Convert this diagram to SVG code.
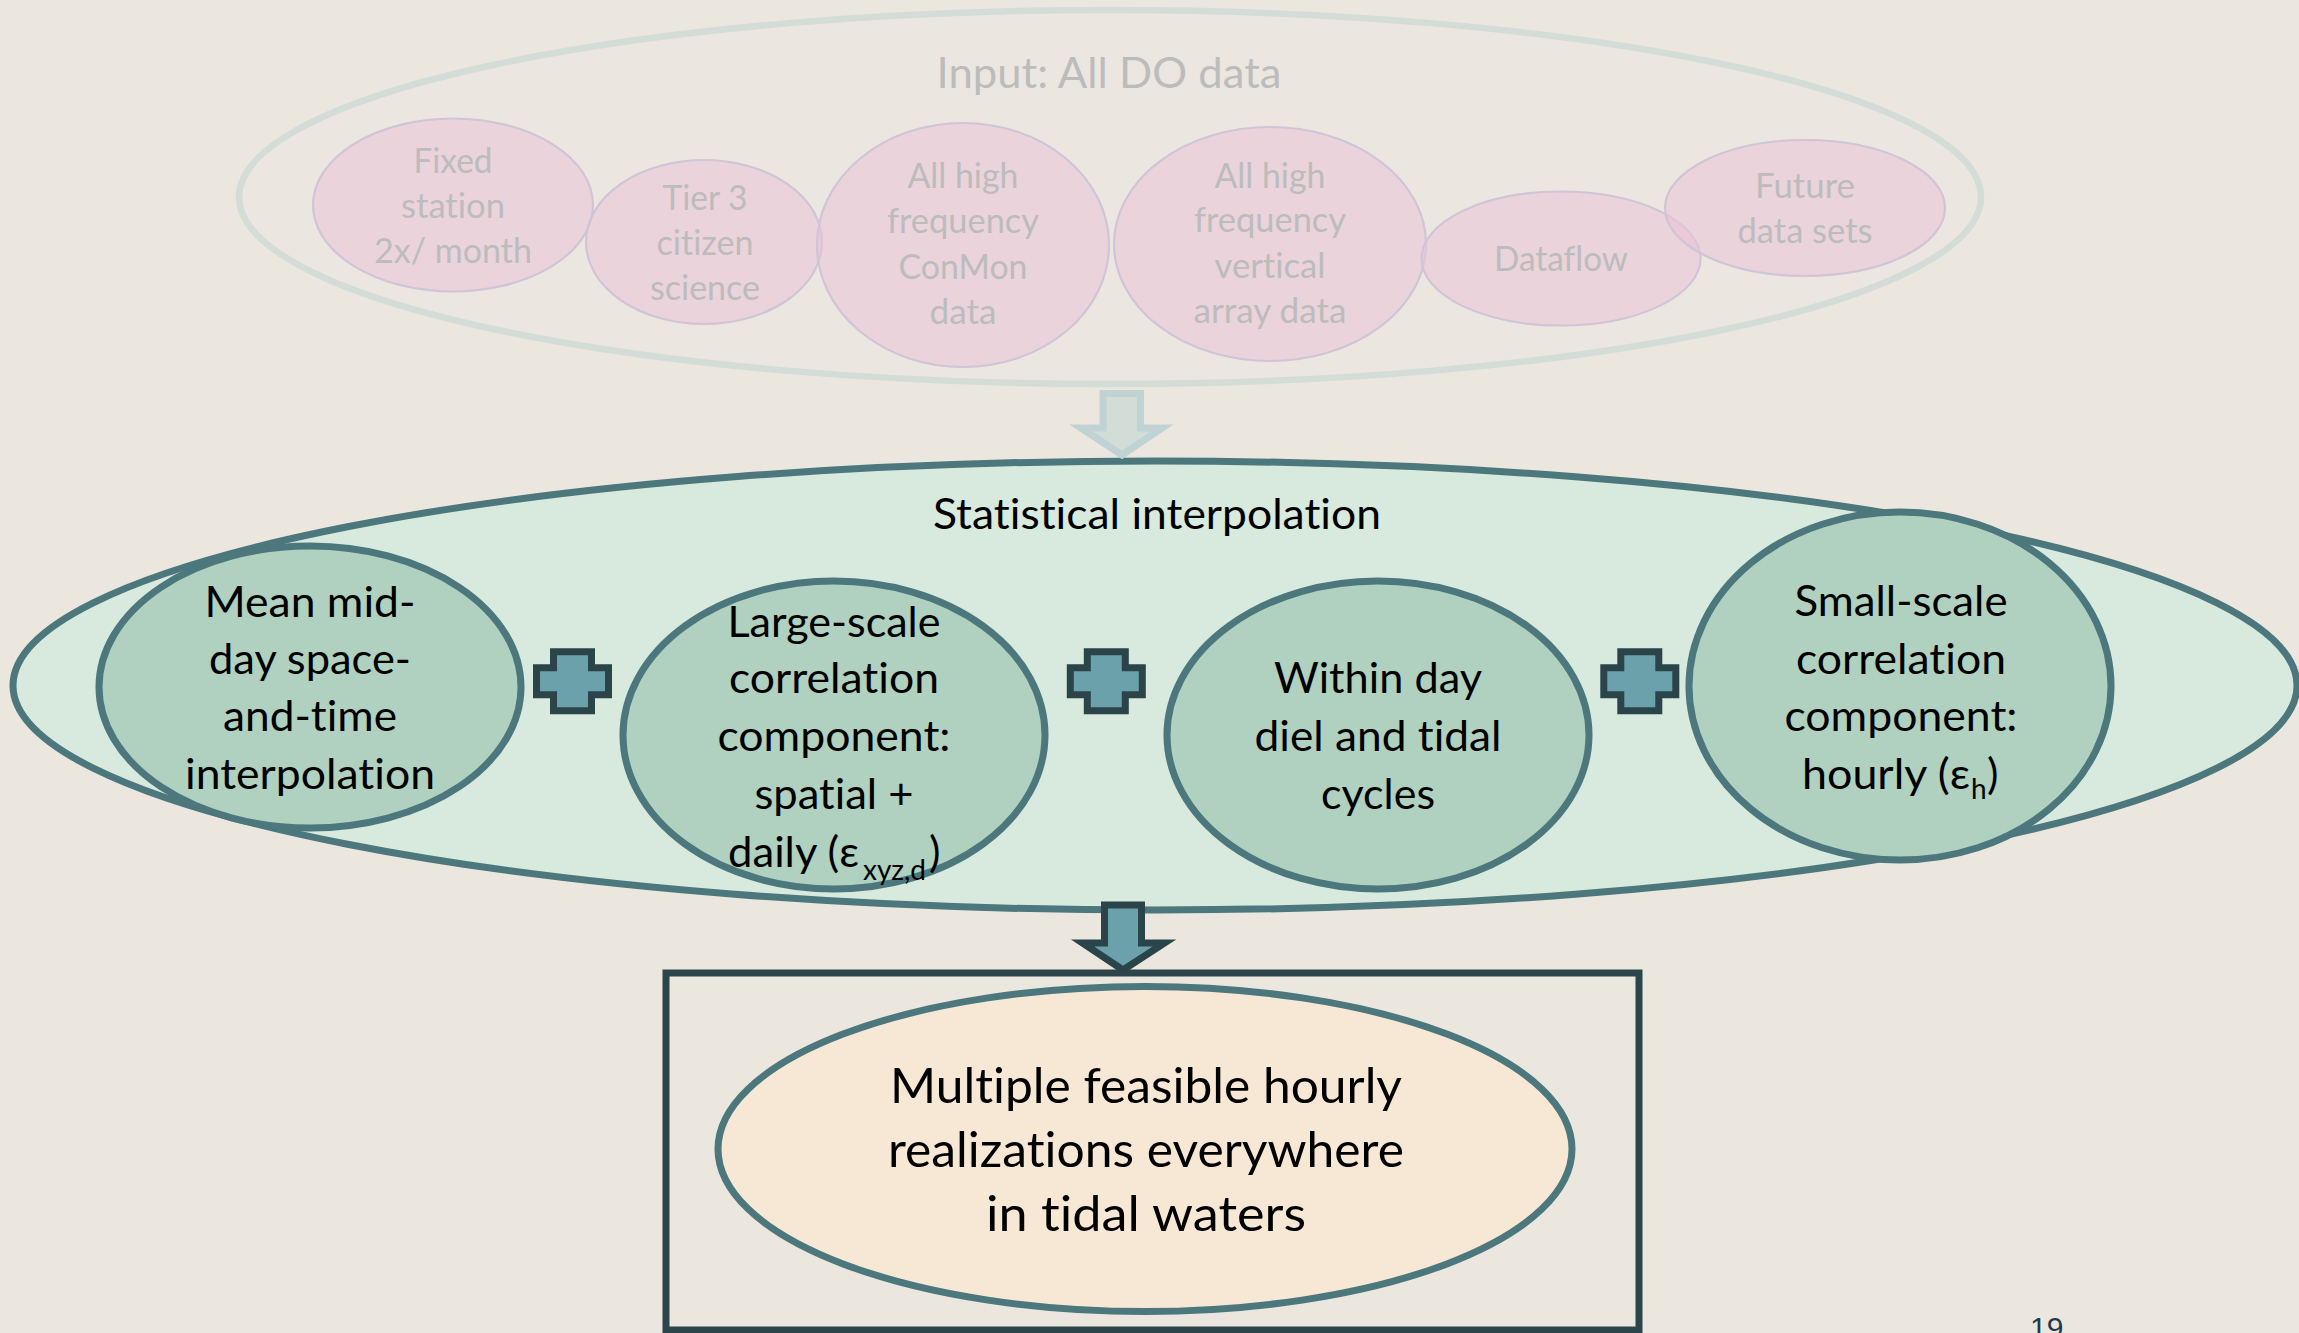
<svg xmlns="http://www.w3.org/2000/svg" xmlns:xlink="http://www.w3.org/1999/xlink" width="2299" height="1333" viewBox="0 0 2299 1333">
<style>
text{font-variant-ligatures:none;font-feature-settings:"liga" 0,"clig" 0}
.bg{fill:#ebe7de}
.pink{fill:#eac3d7;fill-opacity:0.55;stroke:#cfc5d6;stroke-width:2.2}
.ptxt{font-family:Lato,"Open Sans",sans-serif;font-size:34px;fill:#bcbcbc;text-anchor:middle}
.gnode{fill:#b0d1bf;stroke:#4b777d;stroke-width:7}
.mtxt{font-family:Lato,"Open Sans",sans-serif;font-size:43px;fill:#000;text-anchor:middle}
.mtxs{font-family:Lato,"Open Sans",sans-serif;font-size:43px;fill:#000}
.sub{font-family:Lato,"Open Sans",sans-serif;font-size:28px;fill:#000}
.btxt{font-family:Lato,"Open Sans",sans-serif;font-size:48px;fill:#000;text-anchor:middle}
.plus{fill:#6aa1aa;stroke:#2a444a;stroke-width:7}
</style>
<defs>
<path id="plusShape" d="M-19,-29.5 H19 V-13.5 H36 V13.5 H19 V29.5 H-19 V13.5 H-36 V-13.5 H-19 Z"/>
</defs>
<rect class="bg" x="0" y="0" width="2299" height="1333"/>

<g id="input-group">
<ellipse cx="1110" cy="197" rx="871" ry="187" fill="#ece6e0" stroke="#d3dcd7" stroke-width="6.5"/>
<text x="1109" y="88" font-family="Lato,'Open Sans',sans-serif" font-size="43" fill="#bcbcbc" text-anchor="middle" textLength="345" lengthAdjust="spacingAndGlyphs">Input: All DO data</text>
</g>

<g id="node-fixed">
<ellipse class="pink" cx="453" cy="205" rx="140" ry="86.5"/>
<text class="ptxt" x="453" y="173" textLength="79" lengthAdjust="spacingAndGlyphs">Fixed</text>
<text class="ptxt" x="453" y="218" textLength="104" lengthAdjust="spacingAndGlyphs">station</text>
<text class="ptxt" x="453" y="263" textLength="158" lengthAdjust="spacingAndGlyphs">2x/ month</text>
</g>
<g id="node-tier3">
<ellipse class="pink" cx="704" cy="242" rx="118" ry="82"/>
<text class="ptxt" x="705" y="210" textLength="85" lengthAdjust="spacingAndGlyphs">Tier 3</text>
<text class="ptxt" x="705" y="255" textLength="97" lengthAdjust="spacingAndGlyphs">citizen</text>
<text class="ptxt" x="705" y="300" textLength="110" lengthAdjust="spacingAndGlyphs">science</text>
</g>
<g id="node-conmon">
<ellipse class="pink" cx="963" cy="245" rx="146" ry="122"/>
<text class="ptxt" x="963" y="188" textLength="111" lengthAdjust="spacingAndGlyphs">All high</text>
<text class="ptxt" x="963" y="233" textLength="152" lengthAdjust="spacingAndGlyphs">frequency</text>
<text class="ptxt" x="963" y="279" textLength="129" lengthAdjust="spacingAndGlyphs">ConMon</text>
<text class="ptxt" x="963" y="324" textLength="67" lengthAdjust="spacingAndGlyphs">data</text>
</g>
<g id="node-vertical">
<ellipse class="pink" cx="1270" cy="244" rx="156" ry="117"/>
<text class="ptxt" x="1270" y="188" textLength="111" lengthAdjust="spacingAndGlyphs">All high</text>
<text class="ptxt" x="1270" y="232" textLength="152" lengthAdjust="spacingAndGlyphs">frequency</text>
<text class="ptxt" x="1270" y="278" textLength="111" lengthAdjust="spacingAndGlyphs">vertical</text>
<text class="ptxt" x="1270" y="323" textLength="153" lengthAdjust="spacingAndGlyphs">array data</text>
</g>
<g id="node-dataflow">
<ellipse class="pink" cx="1561" cy="258.5" rx="139.5" ry="67"/>
<text class="ptxt" x="1561" y="271" textLength="134" lengthAdjust="spacingAndGlyphs">Dataflow</text>
</g>
<g id="node-future">
<ellipse class="pink" cx="1805" cy="208" rx="140" ry="68"/>
<text class="ptxt" x="1805" y="198" textLength="100" lengthAdjust="spacingAndGlyphs">Future</text>
<text class="ptxt" x="1805" y="243" textLength="135" lengthAdjust="spacingAndGlyphs">data sets</text>
</g>

<g id="stat-group">
<ellipse cx="1155" cy="685.5" rx="1142" ry="224.5" fill="#d8e9de" stroke="#4b777d" stroke-width="7"/>
<text class="mtxt" x="1157" y="529" textLength="448" lengthAdjust="spacingAndGlyphs">Statistical interpolation</text>
</g>

<g id="node-mean">
<ellipse class="gnode" cx="310" cy="687" rx="211" ry="141"/>
<text class="mtxt" x="310" y="617" textLength="211" lengthAdjust="spacingAndGlyphs">Mean mid-</text>
<text class="mtxt" x="310" y="674" textLength="202" lengthAdjust="spacingAndGlyphs">day space-</text>
<text class="mtxt" x="310" y="731" textLength="174" lengthAdjust="spacingAndGlyphs">and-time</text>
<text class="mtxt" x="310" y="789" textLength="250" lengthAdjust="spacingAndGlyphs">interpolation</text>
</g>
<g id="node-large">
<ellipse class="gnode" cx="834" cy="735" rx="211" ry="154"/>
<text class="mtxt" x="834" y="637" textLength="213" lengthAdjust="spacingAndGlyphs">Large-scale</text>
<text class="mtxt" x="834" y="693" textLength="210" lengthAdjust="spacingAndGlyphs">correlation</text>
<text class="mtxt" x="834" y="751" textLength="233" lengthAdjust="spacingAndGlyphs">component:</text>
<text class="mtxt" x="834" y="809" textLength="159" lengthAdjust="spacingAndGlyphs">spatial +</text>
<text class="mtxs" x="728" y="867" textLength="131" lengthAdjust="spacingAndGlyphs">daily (ε</text>
<text class="sub" x="863" y="880" textLength="63" lengthAdjust="spacingAndGlyphs">xyz,d</text>
<text class="mtxs" x="929" y="867">)</text>
</g>
<g id="node-within">
<ellipse class="gnode" cx="1378" cy="735" rx="211" ry="154"/>
<text class="mtxt" x="1378" y="693" textLength="208" lengthAdjust="spacingAndGlyphs">Within day</text>
<text class="mtxt" x="1378" y="751" textLength="247" lengthAdjust="spacingAndGlyphs">diel and tidal</text>
<text class="mtxt" x="1378" y="809" textLength="114" lengthAdjust="spacingAndGlyphs">cycles</text>
</g>
<g id="node-small">
<ellipse class="gnode" cx="1900" cy="686" rx="211" ry="174"/>
<text class="mtxt" x="1901" y="616" textLength="213" lengthAdjust="spacingAndGlyphs">Small-scale</text>
<text class="mtxt" x="1901" y="674" textLength="210" lengthAdjust="spacingAndGlyphs">correlation</text>
<text class="mtxt" x="1901" y="731" textLength="233" lengthAdjust="spacingAndGlyphs">component:</text>
<text class="mtxs" x="1802" y="789" textLength="168" lengthAdjust="spacingAndGlyphs">hourly (ε</text>
<text class="sub" x="1971" y="799">h</text>
<text class="mtxs" x="1987" y="789">)</text>
</g>

<g id="operators">
<use href="#plusShape" xlink:href="#plusShape" class="plus" x="572.5" y="681.3"/>
<use href="#plusShape" xlink:href="#plusShape" class="plus" x="1106.3" y="681.3"/>
<use href="#plusShape" xlink:href="#plusShape" class="plus" x="1639.8" y="681.3"/>
</g>

<g id="connectors">
<path d="M1103,393.5 H1140.5 V428 H1162 L1122,455 L1081,428 H1103 Z" fill="#d3ddd7" stroke="#bfd2d4" stroke-width="7"/>
<path d="M1104.5,905 H1141.5 V943 H1164.5 L1123,970 L1082.5,943 H1104.5 Z" fill="#6aa1aa" stroke="#2a444a" stroke-width="7"/>
</g>

<g id="output-group">
<rect x="666" y="973" width="973" height="357" fill="none" stroke="#2b454b" stroke-width="7"/>
</g>
<g id="node-output">
<ellipse cx="1145" cy="1149" rx="427" ry="162.5" fill="#f7e8d6" stroke="#4b777d" stroke-width="7"/>
<text class="btxt" x="1146" y="1103" textLength="512" lengthAdjust="spacingAndGlyphs">Multiple feasible hourly</text>
<text class="btxt" x="1146" y="1167" textLength="516" lengthAdjust="spacingAndGlyphs">realizations everywhere</text>
<text class="btxt" x="1146" y="1231" textLength="320" lengthAdjust="spacingAndGlyphs">in tidal waters</text>
</g>

<text x="2030" y="1338" font-family="'Liberation Sans',Arial,sans-serif" font-size="30" fill="#1f3a4e">19</text>
</svg>
